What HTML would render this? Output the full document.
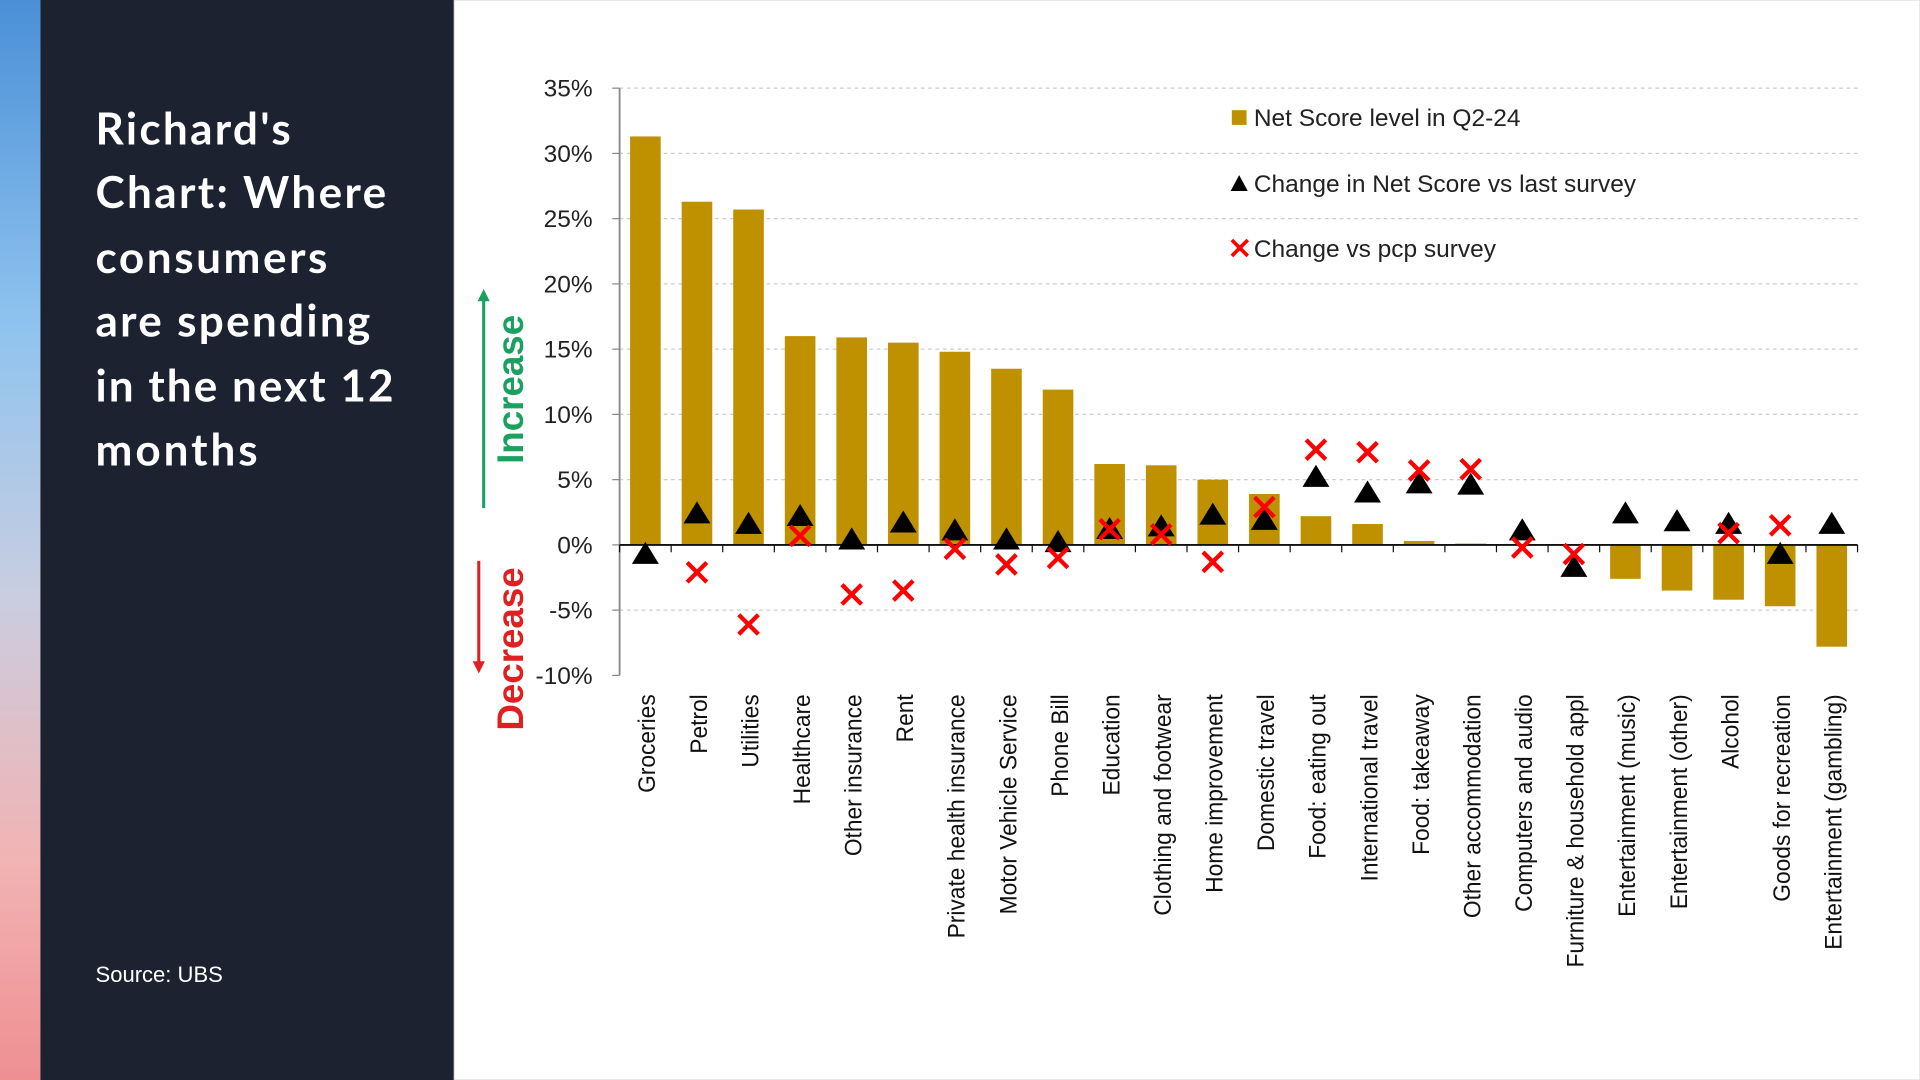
<!DOCTYPE html>
<html><head><meta charset="utf-8"><style>
html,body{margin:0;padding:0;width:1920px;height:1080px;overflow:hidden;background:#fff}
svg{display:block}
</style></head><body>
<svg width="1920" height="1080" viewBox="0 0 1568 882" xmlns="http://www.w3.org/2000/svg">
<defs>
<linearGradient id="strip" x1="0" y1="0" x2="0" y2="1">
<stop offset="0" stop-color="#4a8fd6"/><stop offset="0.3" stop-color="#8fc3ef"/><stop offset="0.55" stop-color="#c9cde0"/><stop offset="0.8" stop-color="#f2b3b3"/><stop offset="1" stop-color="#ee8f92"/>
</linearGradient>
</defs>
<rect x="0" y="0" width="33" height="882" fill="url(#strip)"/>
<rect x="33" y="0" width="338" height="882" fill="#1c2230"/>
<g font-family="Lato, 'Liberation Sans', sans-serif" font-weight="bold" font-size="36" fill="#fff" letter-spacing="0.6">
<text x="78" y="118" textLength="160">Richard's</text>
<text x="78" y="170" textLength="238">Chart: Where</text>
<text x="78" y="223" textLength="190">consumers</text>
<text x="78" y="275" textLength="225">are spending</text>
<text x="78" y="328" textLength="244">in the next 12</text>
<text x="78" y="380" textLength="133">months</text>
</g>
<text x="78" y="802" font-family="'Liberation Sans', sans-serif" font-size="18" fill="#fff">Source: UBS</text>
<rect x="371" y="0" width="1197" height="882" fill="#fff" stroke="#ddd"/>
<g id="chart" font-family="'Liberation Sans', Arial, sans-serif"></g>
<g>
<line x1="395" y1="415" x2="395" y2="244" stroke="#1aa160" stroke-width="2.5"/>
<polygon points="395,236 390,246 400,246" fill="#1aa160"/>
<text transform="translate(427,318) rotate(-90)" text-anchor="middle" font-family="'Liberation Sans',sans-serif" font-weight="bold" font-size="30" fill="#1aa160">Increase</text>
<line x1="391" y1="458" x2="391" y2="542" stroke="#e02020" stroke-width="2.5"/>
<polygon points="391,550 386,540 396,540" fill="#e02020"/>
<text transform="translate(427,530) rotate(-90)" text-anchor="middle" font-family="'Liberation Sans',sans-serif" font-weight="bold" font-size="30" fill="#e02020">Decrease</text>
</g>
</svg>
<script>
const categories=["Groceries","Petrol","Utilities","Healthcare","Other insurance","Rent","Private health insurance","Motor Vehicle Service","Phone Bill","Education","Clothing and footwear","Home improvement","Domestic travel","Food: eating out","International travel","Food: takeaway","Other accommodation","Computers and audio","Furniture & household appl","Entertainment (music)","Entertainment (other)","Alcohol","Goods for recreation","Entertainment (gambling)"];
const netScore=[31.3,26.3,25.7,16.0,15.9,15.5,14.8,13.5,11.9,6.2,6.1,5.0,3.9,2.2,1.6,0.3,0.1,0,0,-2.6,-3.5,-4.2,-4.7,-7.8];
const changeLast=[-0.7,2.4,1.6,2.2,0.4,1.7,1.1,0.4,0.2,1.2,1.4,2.3,1.9,5.2,4.0,4.7,4.6,1.1,-1.7,2.4,1.8,1.6,-0.7,1.6];
const changePcp=[null,-2.1,-6.1,0.7,-3.8,-3.5,-0.3,-1.5,-1.0,1.2,0.8,-1.3,2.9,7.3,7.1,5.7,5.8,-0.2,-0.7,null,null,0.9,1.5,null];
const yTicks=[35,30,25,20,15,10,5,0,-5,-10];
const legendLabels=["Net Score level in Q2-24","Change in Net Score vs last survey","Change vs pcp survey"];

const NS="http://www.w3.org/2000/svg";
const g=document.getElementById('chart');
const X0=506,X1=1517,Y35=72,Y0=445;
const step=(X1-X0)/categories.length;
const y=v=>Y0-(Y0-Y35)*v/35;
const xc=i=>X0+step*(i+0.5);
function mk(t,a,p){const e=document.createElementNS(NS,t);for(const k in a)e.setAttribute(k,a[k]);(p||g).appendChild(e);return e;}
yTicks.forEach(t=>{
  if(t!==0&&t>-10){const l=mk('line',{x1:X0,x2:X1,y1:y(t),y2:y(t),stroke:'#ccc','stroke-dasharray':'3,3'});
  
  }
  const tk=mk('line',{x1:X0-6,x2:X0,y1:y(t),y2:y(t),stroke:'#888'});
  
  
  const tx=mk('text',{x:X0-22,y:y(t)+7,'text-anchor':'end','font-size':20,fill:'#222'});
  tx.textContent=t+'%';
  
  
});
const ax=mk('line',{x1:X0,x2:X0,y1:Y35,y2:y(-10),stroke:'#888','stroke-width':1.5});


netScore.forEach((v,i)=>{
  const r=mk('rect',{x:xc(i)-12.5,width:25,y:Math.min(y(v),y(0)),height:Math.max(Math.abs(y(v)-y(0)),0.5),fill:'#bf9000'});
  
  
});
const xa=mk('line',{x1:X0,x2:X1,y1:Y0,y2:Y0,stroke:'#111','stroke-width':1.5});


for(let i=0;i<=categories.length;i++){const t=mk('line',{x1:X0+step*i,x2:X0+step*i,y1:Y0,y2:Y0+6,stroke:'#111'});

}
changeLast.forEach((v,i)=>{
  const cy=y(v),cx=xc(i);
  const p=mk('polygon',{points:`${cx},${cy-10} ${cx-11},${cy+8} ${cx+11},${cy+8}`,fill:'#000'});
  
  
});
changePcp.forEach((v,i)=>{
  if(v===null)return;
  const cy=y(v),cx=xc(i),s=8;
  const p=mk('path',{d:`M${cx-s},${cy-s}L${cx+s},${cy+s}M${cx+s},${cy-s}L${cx-s},${cy+s}`,stroke:'#f00','stroke-width':3.5});
  
  
});
categories.forEach((c,i)=>{
  const t=mk('text',{transform:`translate(${xc(i)+8},567) rotate(-90) scale(0.93,1)`,'text-anchor':'end','font-size':20,fill:'#111'});
  t.textContent=c;
  
  
});
const lg=mk('g',{});


const ly=[96,150,203];
mk('rect',{x:1006,y:ly[0]-6,width:12,height:12,fill:'#bf9000'},lg);
mk('polygon',{points:`1012,${ly[1]-7} 1005,${ly[1]+6} 1019,${ly[1]+6}`,fill:'#000'},lg);
mk('path',{d:`M1006,${ly[2]-7}L1019,${ly[2]+6}M1019,${ly[2]-7}L1006,${ly[2]+6}`,stroke:'#f00','stroke-width':3},lg);
legendLabels.forEach((l,k)=>{const t=mk('text',{x:1024,y:ly[k]+7,'font-size':20,fill:'#222'},lg);t.textContent=l;

});
</script>
</body></html>
